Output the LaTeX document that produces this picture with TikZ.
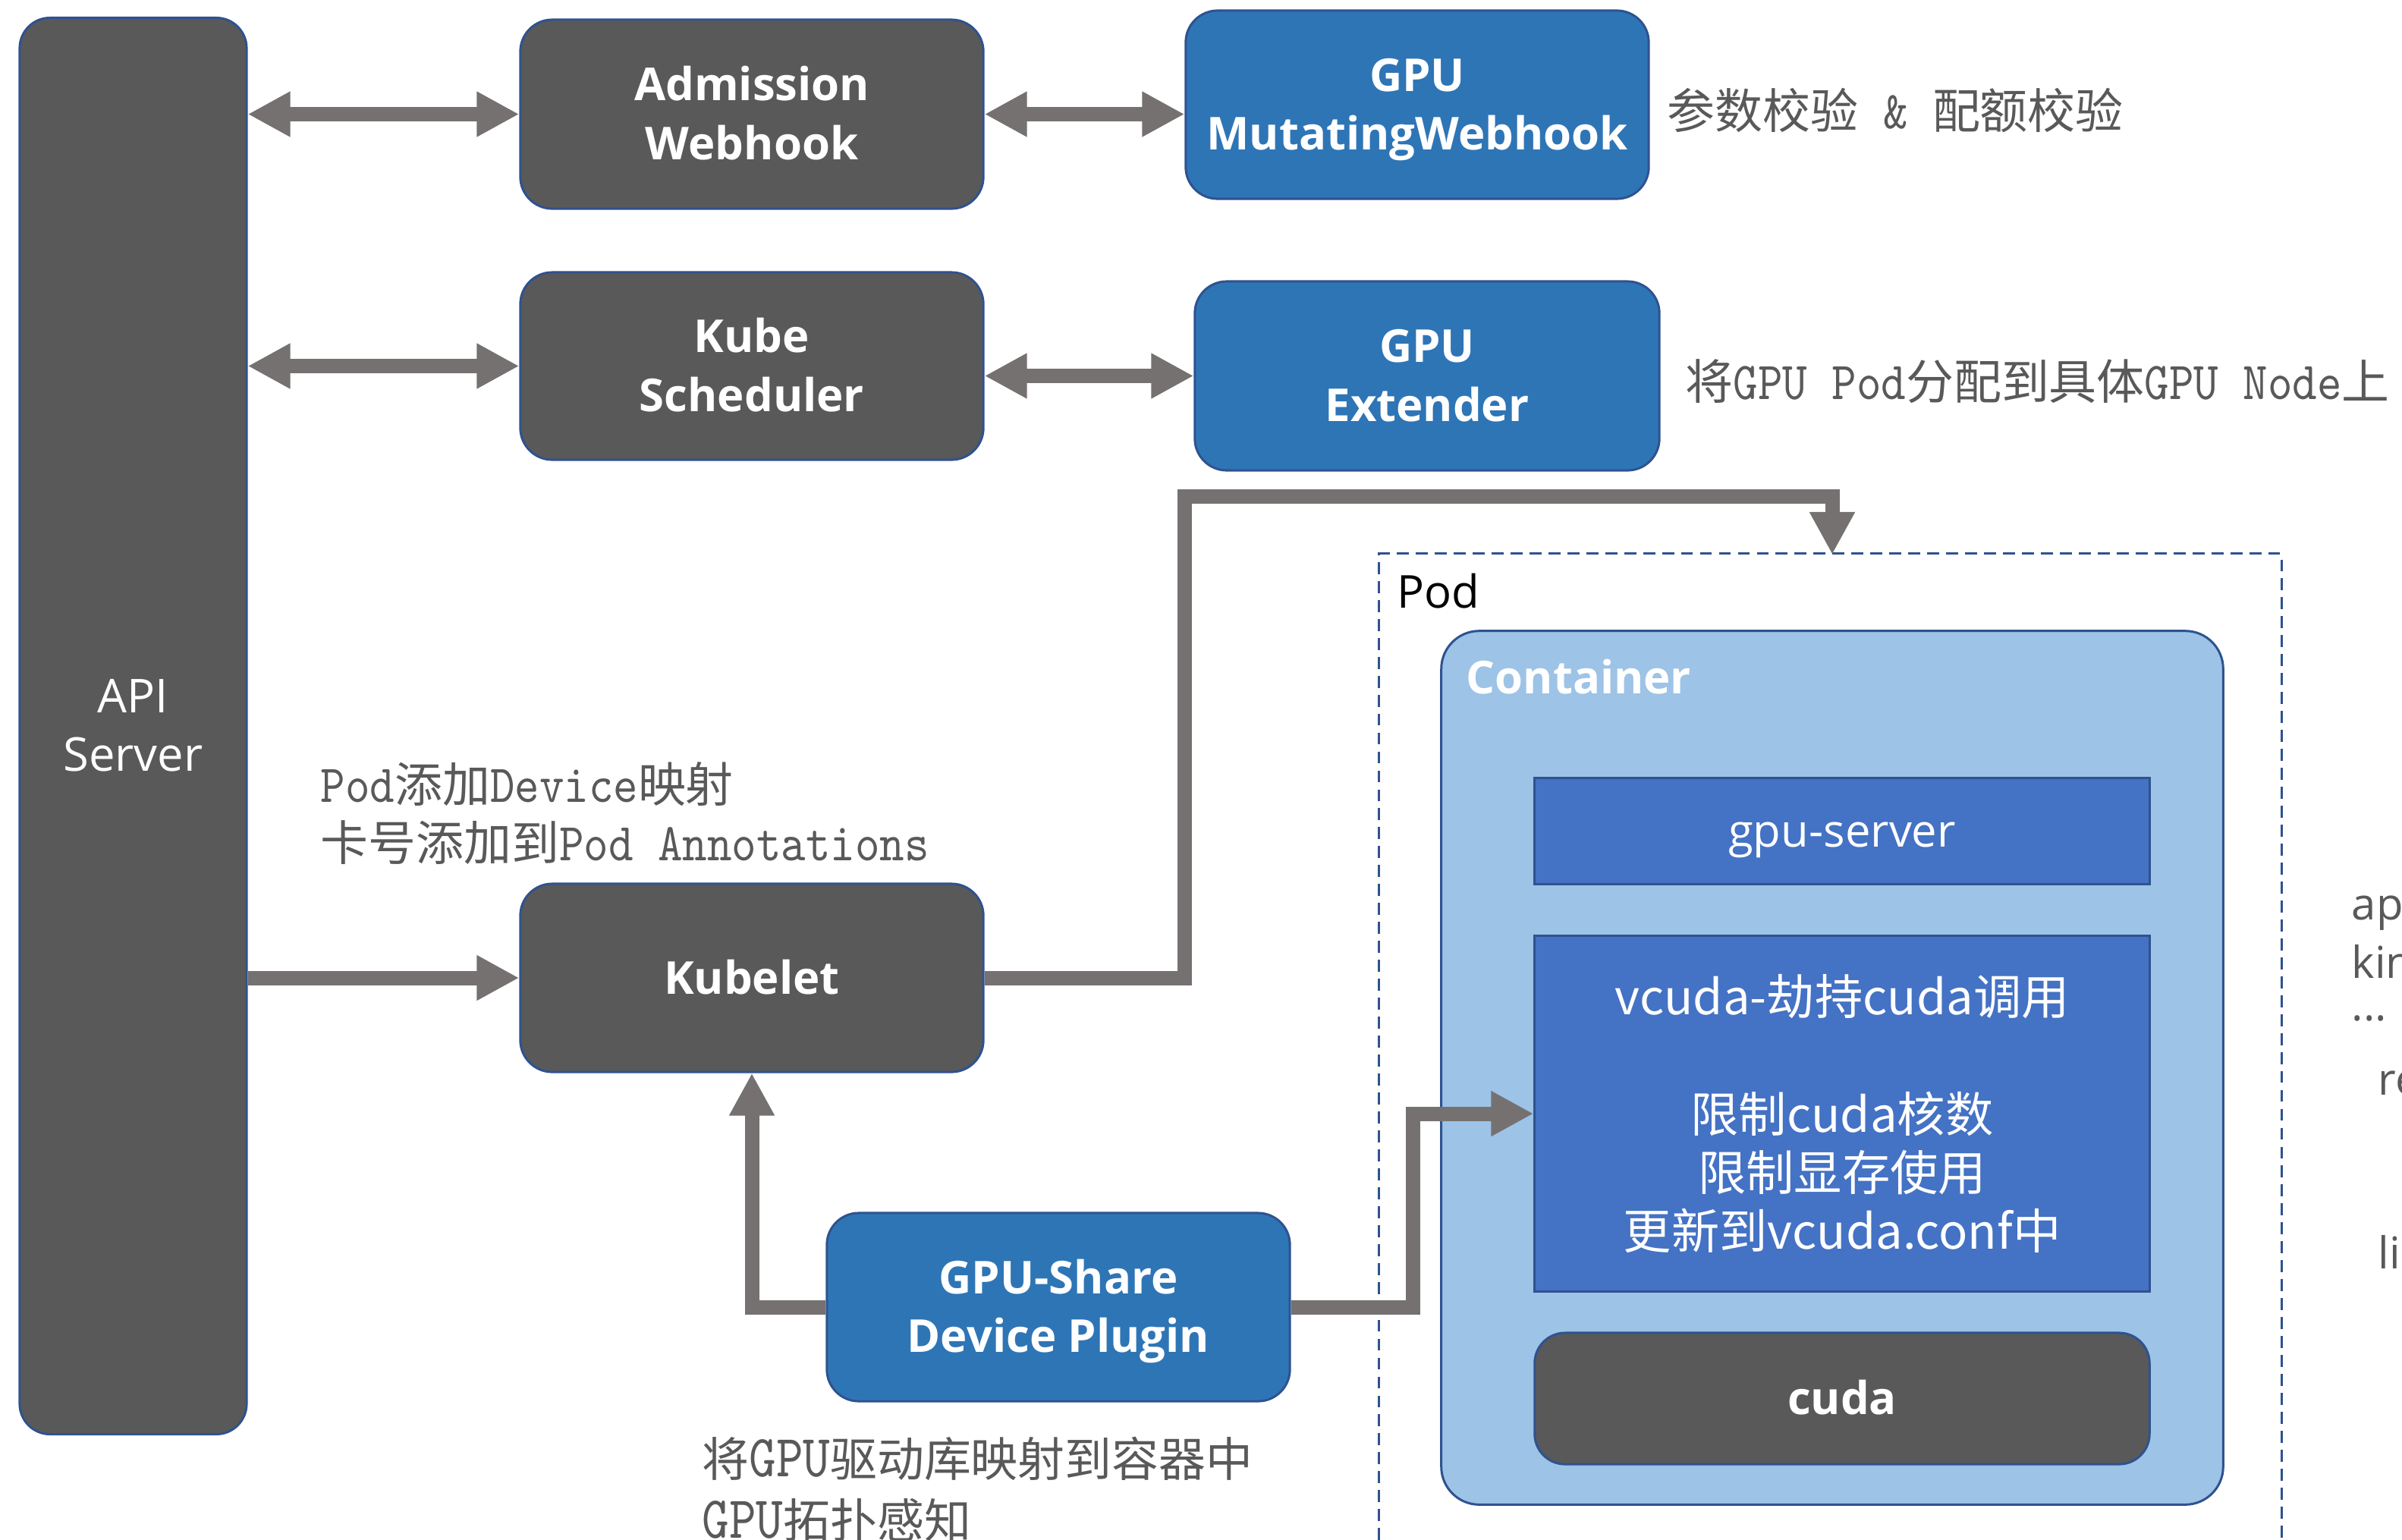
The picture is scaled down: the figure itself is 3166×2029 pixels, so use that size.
\documentclass[tikz,border=0pt]{standalone}
\usepackage{fontspec}
\setmainfont{Open Sans}
\newfontfamily\cjk{Noto Sans CJK SC}
\newfontfamily\halfmono[FakeStretch=0.88]{lmmono10-regular.otf}
\newfontfamily\narrowmono[FakeStretch=0.86]{lmmono10-regular.otf}
\newcommand\ls{\rule[-5pt]{0pt}{22pt}}
\newcommand\lat[1]{{\fontsize{20}{21.9}\selectfont\halfmono #1}}
\newcommand\latb[1]{{\fontsize{22.4}{23}\selectfont\narrowmono #1}}
\usetikzlibrary{arrows.meta,calc}
\definecolor{darkfill}{HTML}{595959}
\definecolor{bluefill}{HTML}{2E75B6}
\definecolor{edgeblue}{HTML}{2F528F}
\definecolor{contfill}{HTML}{9DC3E6}
\definecolor{innerblue}{HTML}{4472C4}
\definecolor{arrowgray}{HTML}{767171}
\definecolor{notegray}{HTML}{595959}
\begin{document}
\begin{tikzpicture}[x=0.01cm,y=-0.01cm,
  box/.style={draw=edgeblue, line width=0.85pt, rounded corners=0.42cm, text=white, align=center, inner sep=0pt,
    font=\fontsize{17}{22}\selectfont\bfseries},
  dbox/.style={box, fill=darkfill},
  bbox/.style={box, fill=bluefill},
  ibox/.style={draw=edgeblue, line width=0.85pt, fill=innerblue, text=white, align=center, inner sep=0pt,
    minimum width=8.1cm},
  tipA/.tip={Triangle[length=0.56cm,width=0.56cm]},
  conn/.style={draw=arrowgray, line width=0.19cm, -tipA},
  dconn/.style={draw=arrowgray, line width=0.19cm, tipA-tipA},
  note/.style={text=notegray, anchor=west, align=left, inner sep=0pt, font=\fontsize{17.9}{21.9}\selectfont\cjk},
  side/.style={text=notegray, anchor=base west, inner sep=0pt, font=\fontsize{16.5}{20}\selectfont}
]
\useasboundingbox (0,0) rectangle (3166,2029);

% left column and middle boxes
\node[dbox, rounded corners=0.4cm, minimum width=2.99cm, minimum height=18.66cm, font=\fontsize{17.5}{22}\selectfont] (api) at (175.5,957) {\ls API\\\ls Server};
\node[dbox, minimum width=6.1cm, minimum height=2.49cm] (adm) at (991,150.5) {\ls Admission\\\ls Webhook};
\node[bbox, minimum width=6.1cm, minimum height=2.48cm] (mut) at (1868,138) {\ls GPU\\\ls MutatingWebhook};
\node[dbox, minimum width=6.1cm, minimum height=2.47cm] (sch) at (991,482.5) {\ls Kube\\\ls Scheduler};
\node[bbox, minimum width=6.12cm, minimum height=2.49cm] (ext) at (1881,495.5) {\ls GPU\\\ls Extender};
\node[dbox, minimum width=6.1cm, minimum height=2.48cm] (kub) at (991,1289) {\ls Kubelet};
\node[bbox, minimum width=6.1cm, minimum height=2.48cm] (plg) at (1395,1723) {\ls GPU-Share\\\ls Device Plugin};

% pod frame
\node[minimum width=11.87cm, minimum height=12.98cm, inner sep=0pt] (pod) at (2412.5,1380) {};
\draw[edgeblue, line width=0.85pt, dash pattern=on 4.5pt off 2.6pt] (pod.south west) -- (pod.north west) -- (pod.north east) -- (pod.south east);
\node[anchor=west, inner sep=0pt, text=black, font=\fontsize{17}{22}\selectfont] (podl) at (1841,779) {Pod};

% container
\node[draw=edgeblue, line width=0.85pt, fill=contfill, rounded corners=0.5cm, minimum width=10.3cm, minimum height=11.51cm, inner sep=0pt] (cont) at (2415,1407.5) {};
\node[anchor=west, inner sep=0pt, text=white, font=\fontsize{17}{22}\selectfont\bfseries] (contl) at (1932,892) {Container};
\node[ibox, minimum height=1.39cm, font=\fontsize{17}{22}\selectfont] (gsrv) at (2428,1095.5) {\ls gpu-server};
\node[ibox, minimum height=4.68cm, font=\fontsize{18}{22}\selectfont\cjk] (vcu) at (2428,1468) {vcuda-劫持cuda调用\\[22pt]限制cuda核数\\限制显存使用\\更新到vcuda.conf中};
\node[box, fill=darkfill, rounded corners=0.4cm, minimum width=8.1cm, minimum height=1.73cm] (cuda) at (2428,1843.5) {\ls cuda};

% annotations
\node[note] (n1) at (2197,145) {参数校验\lat{\ \&\ }配额校验};
\node[note] (n2) at (2221,503) {将\lat{GPU Pod}分配到具体\lat{GPU Node}上};
\node[note] (n3) at (422,1072) {\lat{Pod}添加\lat{Device}映射\\卡号添加到\lat{Pod Annotations}};
\node[note, font=\fontsize{17.6}{23}\selectfont\cjk] (n4) at (925,1963) {将\latb{GPU}驱动库映射到容器中\\\latb{GPU}拓扑感知};

% clipped side text
\node[side] (r1) at (3099,1212) {ap};
\node[side] (r2) at (3099,1289) {kin};
\node[side] (r3) at (3099,1345) {...};
\node[side] (r4) at (3134,1443) {re};
\node[side] (r5) at (3134,1672) {li};

% connectors
\coordinate (kbend) at (1561,654);
\coordinate (podin) at (2415,731);
\coordinate (pbend) at (1862,1468);
\draw[dconn] (api.east |- adm.west) -- (adm.west);
\draw[dconn] (adm.east) -- (adm.east -| mut.west);
\draw[dconn] (api.east |- sch.west) -- (sch.west);
\draw[dconn] (sch.east |- ext.west) -- (ext.west);
\draw[conn] (api.east |- kub.west) -- (kub.west);
\draw[conn] (kub.east) -| (kbend) -| (podin);
\draw[conn] (plg.west) -| (kub.south);
\draw[conn] (plg.east) -| (pbend) -- (vcu.west);
\end{tikzpicture}
\end{document}
